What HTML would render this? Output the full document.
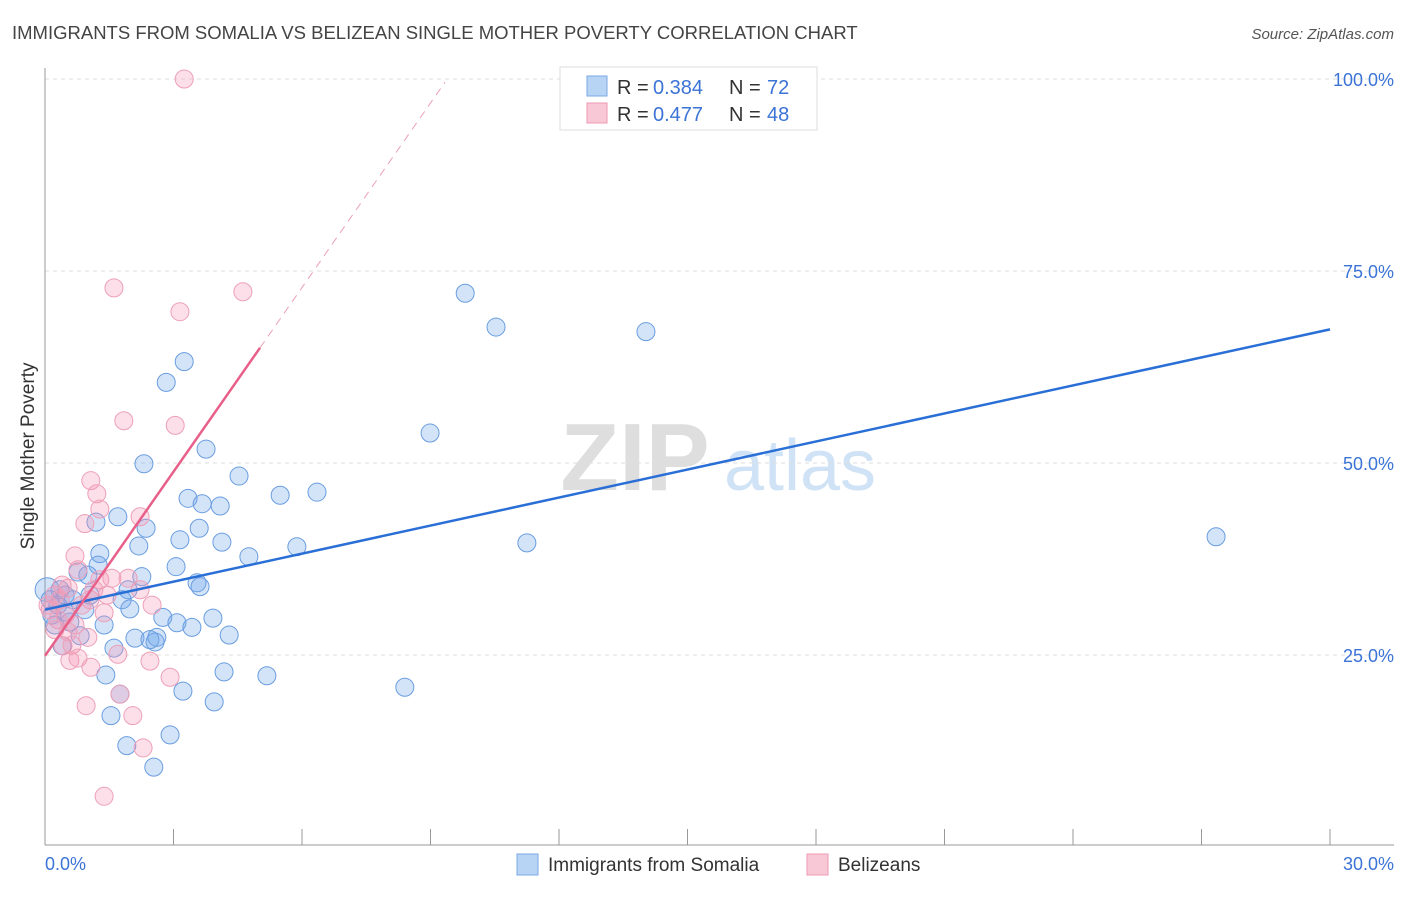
<!DOCTYPE html>
<html><head><meta charset="utf-8"><style>
body{margin:0;background:#fff;font-family:"Liberation Sans",sans-serif;}
svg text{font-family:"Liberation Sans",sans-serif;}
</style></head><body>
<svg id="chart" width="1406" height="892" xmlns="http://www.w3.org/2000/svg">
<text x="12" y="39" font-size="18.5" fill="#444">IMMIGRANTS FROM SOMALIA VS BELIZEAN SINGLE MOTHER POVERTY CORRELATION CHART</text>
<text x="1394" y="39" font-size="15" fill="#555" text-anchor="end" font-style="italic">Source: ZipAtlas.com</text>
<g>
<text x="635" y="490" font-size="96" fill="#dedede" text-anchor="middle" font-family="Liberation Serif" font-weight="bold">ZIP</text>
<text x="800" y="490" font-size="72" fill="#d0e2f5" text-anchor="middle">atlas</text>
</g>
<g id="grid"></g>
<g id="axes"></g>
<g id="points"></g>
<g id="lines"></g>
<text transform="translate(34,456) rotate(-90)" font-size="19" fill="#333" text-anchor="middle">Single Mother Poverty</text>
<text x="45" y="870" font-size="18" fill="#3b73d6">0.0%</text>
<text x="1394" y="870" font-size="18" fill="#3b73d6" text-anchor="end">30.0%</text>
<g>
<rect x="560" y="67" width="257" height="63" fill="#fff" stroke="#ddd"/>
<rect x="587" y="76" width="20" height="20" fill="#b8d4f4" stroke="#7aa8e4"/>
<text x="617" y="94" font-size="20" fill="#333">R =</text>
<text x="653" y="94" font-size="20" fill="#3b73d6">0.384</text>
<text x="729" y="94" font-size="20" fill="#333">N =</text>
<text x="767" y="94" font-size="20" fill="#3b73d6">72</text>
<rect x="587" y="103" width="20" height="20" fill="#f9c8d6" stroke="#ee98b2"/>
<text x="617" y="121" font-size="20" fill="#333">R =</text>
<text x="653" y="121" font-size="20" fill="#3b73d6">0.477</text>
<text x="729" y="121" font-size="20" fill="#333">N =</text>
<text x="767" y="121" font-size="20" fill="#3b73d6">48</text>
</g>
<g>
<rect x="517" y="854" width="21" height="21" fill="#b8d4f4" stroke="#7aa8e4"/>
<text x="548" y="871" font-size="19" fill="#333">Immigrants from Somalia</text>
<rect x="807" y="854" width="21" height="21" fill="#f9c8d6" stroke="#ee98b2"/>
<text x="838" y="871" font-size="19" fill="#333">Belizeans</text>
</g>
</svg>
<script>
const blueX=[3.25,2.83,3.76,2.31,4.53,8.99,9.81,10.53,14.03,27.34,3.34,3.67,4.09,5.49,6.35,1.19,1.70,2.36,2.19,3.15,3.60,4.13,4.76,5.88,11.25,1.28,1.24,1.00,0.77,2.26,3.06,3.55,3.62,1.94,1.80,1.98,2.75,3.08,3.43,3.92,4.30,2.10,2.45,2.61,2.57,1.38,0.58,0.40,0.82,1.61,1.42,4.18,5.18,1.75,3.22,3.95,8.40,1.54,1.91,2.92,2.54,0.05,0.12,0.16,0.30,0.47,0.65,0.23,0.93,0.47,0.35,1.05];
const blueY=[63.2,60.5,51.8,49.9,48.3,53.9,72.1,67.7,67.1,40.4,45.4,44.7,44.4,45.8,46.2,42.3,43.0,41.5,39.2,40.0,41.5,39.7,37.8,39.1,39.6,38.2,36.7,35.4,35.8,35.2,36.5,34.4,33.9,33.5,32.2,31.0,29.9,29.2,28.6,29.8,27.6,27.2,27.0,27.3,26.7,28.9,29.3,26.2,27.5,25.9,22.4,22.8,22.3,19.9,20.3,18.9,20.8,17.1,13.2,14.6,10.4,33.5,32.2,30.2,31.5,30.6,32.2,28.9,30.9,32.8,33.5,32.8];
const pinkX=[3.25,1.61,4.62,3.15,1.84,3.04,1.07,1.21,1.28,0.93,2.22,0.70,0.77,1.56,1.28,1.94,0.54,1.45,1.05,2.50,1.38,0.35,0.23,0.12,0.47,0.30,0.70,0.42,1.00,0.63,1.70,2.45,0.58,0.77,1.07,2.92,0.96,2.05,2.29,1.38,1.75,0.23,0.86,0.54,2.22,1.14,0.07,0.40];
const pinkY=[100,72.8,72.3,69.7,55.5,54.9,47.7,46.0,44.0,42.1,43.0,37.9,36.1,35.0,34.8,35.0,33.7,32.8,32.2,31.5,30.5,32.2,32.8,30.9,30.2,29.6,28.9,26.2,27.3,26.3,25.1,24.2,24.3,24.6,23.4,22.1,18.4,17.1,12.9,6.6,19.9,28.3,31.5,28.0,33.5,33.5,31.5,34.1];
const blueTrend=[30.9,67.4];
const pinkTrend=[24.9,65.0,99.6];
const pinkTrendX=[0,5.02,9.34];
const yTicks=[25,50,75,100];
const yTickLabels=["25.0%","50.0%","75.0%","100.0%"];
const xTicks=[0,3,6,9,12,15,18,21,24,27,30];
const NS="http://www.w3.org/2000/svg";
const sx=v=>45+v/30*1285;
const sy=v=>847-v*7.68;
function mk(tag,attrs,parent){const e=document.createElementNS(NS,tag);for(const k in attrs)e.setAttribute(k,attrs[k]);parent.appendChild(e);return e;}
const grid=document.getElementById('grid'),axes=document.getElementById('axes'),pts=document.getElementById('points'),lines=document.getElementById('lines');
yTicks.forEach((t,i)=>{
 const l=mk('line',{x1:45,x2:1394,y1:sy(t),y2:sy(t),stroke:'#ddd','stroke-dasharray':'4,4'},grid);
 
 
 const tx=mk('text',{x:1394,y:sy(t)+7,'font-size':18,fill:'#3b73d6','text-anchor':'end'},grid);
 tx.textContent=yTickLabels[i];
 
 
});
const ya=mk('line',{x1:45,x2:45,y1:68,y2:845,stroke:'#999'},axes);


const xa=mk('line',{x1:45,x2:1394,y1:845,y2:845,stroke:'#999'},axes);


xTicks.forEach(t=>{
 const l=mk('line',{x1:sx(t),x2:sx(t),y1:829,y2:845,stroke:'#999'},axes);
 
 
});
blueX.forEach((x,i)=>{
 const c=mk('circle',{cx:sx(x),cy:sy(blueY[i]),r:(i==61?12:9),fill:'rgba(110,165,235,0.3)',stroke:'#6a9de0','stroke-width':1},pts);
 
 
});
pinkX.forEach((x,i)=>{
 const c=mk('circle',{cx:sx(x),cy:sy(pinkY[i]),r:9,fill:'rgba(245,150,180,0.3)',stroke:'#eda0b8','stroke-width':1},pts);
 
 
});
const bl=mk('line',{x1:sx(0),y1:sy(blueTrend[0]),x2:sx(30),y2:sy(blueTrend[1]),stroke:'#2a6fd6','stroke-width':2.5},lines);


const pl=mk('line',{x1:sx(pinkTrendX[0]),y1:sy(pinkTrend[0]),x2:sx(pinkTrendX[1]),y2:sy(pinkTrend[1]),stroke:'#e8608a','stroke-width':2.5},lines);


const pd=mk('line',{x1:sx(pinkTrendX[1]),y1:sy(pinkTrend[1]),x2:sx(pinkTrendX[2]),y2:sy(pinkTrend[2]),stroke:'#eaa0b8','stroke-width':1,'stroke-dasharray':'8,6'},lines);


</script>
</body></html>
